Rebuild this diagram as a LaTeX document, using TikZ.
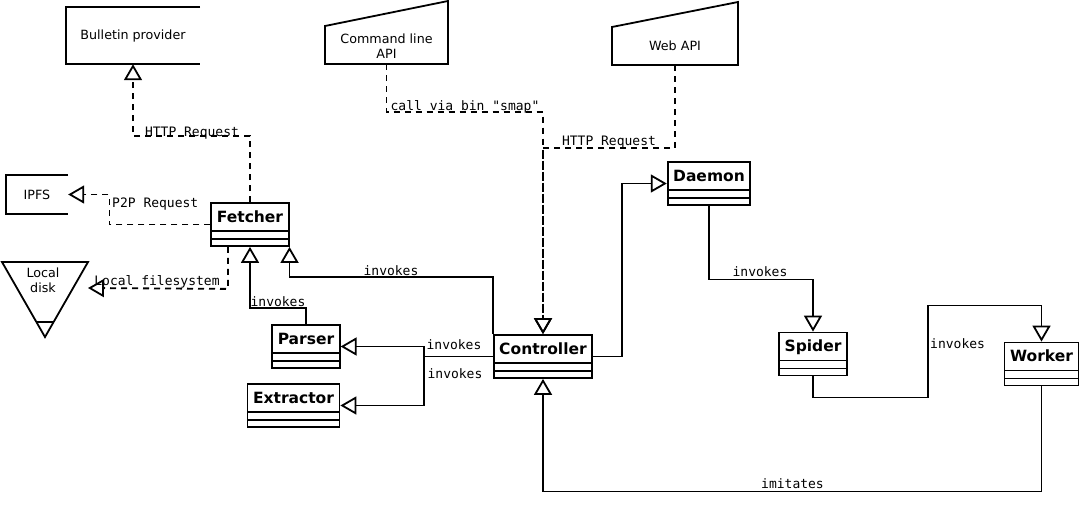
\documentclass[tikz,border=0pt]{standalone}
\usepackage{fontspec}
\setmainfont{DejaVu Sans}
\setmonofont{DejaVu Sans Mono}
\usetikzlibrary{arrows.meta,positioning}
\tikzset{every picture/.style={line cap=butt, line join=miter}}
\tikzset{cls/.style={draw, rectangle, line width=1.8pt, inner xsep=5.5pt, inner ysep=0pt,
  text height=19pt, text depth=24pt, font=\fontsize{15.5}{18}\selectfont\bfseries,
  path picture={
    \draw[line width=1.8pt] ([yshift=15pt]path picture bounding box.south west) -- ([yshift=15pt]path picture bounding box.south east);
    \draw[line width=1.8pt] ([yshift=7pt]path picture bounding box.south west) -- ([yshift=7pt]path picture bounding box.south east);}}}
\tikzset{ext/.style={rectangle, inner sep=0pt, align=center, font=\fontsize{12.7}{15.5}\selectfont}}
\tikzset{shp/.style={draw, line width=1.8pt}}
\tikzset{inv/.style={-{Triangle[open, length=16pt, width=18pt]}, line width=1.8pt}}
\tikzset{dep/.style={inv, dash pattern=on 6pt off 5pt}}
\tikzset{lbl/.style={anchor=base, inner sep=0pt, font=\fontsize{13}{15}\ttfamily}}

\begin{document}
\begin{tikzpicture}[x=1pt,y=-1pt]
  \useasboundingbox (0,0) rectangle (1080,507);

  % outside things
  \node[ext, minimum width=134, minimum height=57] (bulletin) at (133,35.5) {Bulletin provider};
  \draw[shp] (bulletin.north east) -- (bulletin.north west) -- (bulletin.south west) -- (bulletin.south east);
  \node[ext, minimum width=62, minimum height=39] (ipfs) at (37,194.5) {IPFS};
  \draw[shp] (ipfs.north east) -- (ipfs.north west) -- (ipfs.south west) -- (ipfs.south east);
  \node[ext, minimum width=123, minimum height=36] (cli) at (386.5,46) {Command line\\API};
  \draw[shp] (325,26) -- (325,64) -- (448,64) -- (448,1) -- cycle;
  \node[ext, minimum width=126, minimum height=38] (webapi) at (675,46) {Web API};
  \draw[shp] (612,27) -- (612,65) -- (738,65) -- (738,2) -- cycle;
  \node[ext] (disk) at (43,280.5) {Local\\disk};
  \draw[shp] (2,262) -- (88,262) -- (45,337) -- cycle;
  \draw[shp] (37,322) -- (53,322);
  \coordinate (diskin) at (88,288);

  % classes
  \node[cls] (fetcher) at (250,224.5) {Fetcher};
  \node[cls] (parser) at (306,346.5) {Parser};
  \node[cls] (extractor) at (293.5,405.5) {Extractor};
  \node[cls] (controller) at (543,356.5) {Controller};
  \node[cls] (daemon) at (709,183.5) {Daemon};
  \node[cls] (spider) at (813,354) {Spider};
  \node[cls] (worker) at (1041.5,364) {Worker};

  % Fetcher uses
  \draw[dep] (fetcher.north) -- ++(0,-66) -| (bulletin.south);
  \node[lbl] (lhttpa) at (192,136) {HTTP Request};
  \draw[dep] (fetcher.west) -- ++(-101,0) |- (ipfs.east);
  \node[lbl, anchor=base west] (lp2p) at (112,207) {P2P Request};
  \draw[dep] ([xshift=-22pt]fetcher.south) -- ++(0,42) -- (diskin);
  \node[lbl] (lfs) at (157,285) {Local filesystem};

  % invokes
  \draw[inv] (parser.north) -- ++(0,-16) -| (fetcher.south);
  \node[lbl] (linva) at (278,306) {invokes};
  \draw[inv] (controller.north west) -- ++(0,-57) -| (fetcher.south east);
  \node[lbl] (linvb) at (391,275) {invokes};
  \draw[inv] (controller.west) -- ++(-69,0) |- (parser.east);
  \node[lbl] (linvc) at (454,349) {invokes};
  \draw[inv] (controller.west) -- ++(-69,0) |- (extractor.east);
  \node[lbl] (linvd) at (455,378) {invokes};

  % APIs
  \draw[dep] (cli.south) -- ++(0,48) -| (controller.north);
  \node[lbl] (lcall) at (465,110) {call via bin "smap"};
  \draw[dep] (webapi.south) -- ++(0,83) -| (controller.north);
  \node[lbl] (lhttpb) at (609,145) {HTTP Request};

  % Daemon side
  \draw[inv] (controller.east) -- ++(29,0) |- (daemon.west);
  \draw[inv] (daemon.south) -- ++(0,73.5) -| (spider.north);
  \node[lbl] (linve) at (760,276) {invokes};
  \draw[inv] (spider.south) -- ++(0,21) -| ++(115,-92) -| (worker.north);
  \node[lbl, anchor=base west] (linvf) at (930,348) {invokes};
  \draw[inv] (worker.south) -- ++(0,105) -| (controller.south);
  \node[lbl] (limit) at (792.5,488) {imitates};
\end{tikzpicture}
\end{document}
